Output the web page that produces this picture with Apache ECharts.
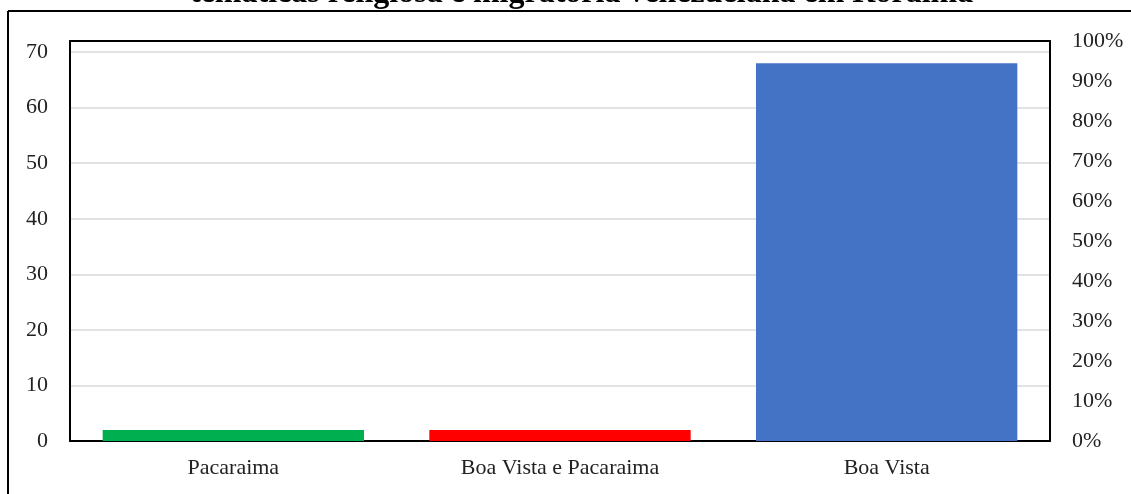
<!DOCTYPE html>
<html>
<head>
<meta charset="utf-8">
<script src="https://cdn.jsdelivr.net/npm/echarts@6/dist/echarts.min.js"></script>
<style>
html,body{margin:0;padding:0;background:#fff;}
#chart{width:1131px;height:494px;}
</style>
</head>
<body>
<div id="chart"></div>
<script>
const titleText = 'temáticas religiosa e migratória venezuelana em Roraima';
const categories = ['Pacaraima', 'Boa Vista e Pacaraima', 'Boa Vista'];
const values = [2, 2, 68];
const barColors = ['#00B050', '#FF0000', '#4472C4'];
const leftAxis = {min: 0, max: 72, interval: 10};
const rightAxis = {min: 0, max: 1, interval: 0.1};

const font = 'Liberation Serif, Times New Roman, serif';
const frameLine = {show: true, onZero: false, lineStyle: {color: '#000', width: 2}};
const chart = echarts.init(document.getElementById('chart'), null, {renderer: 'canvas'});
chart.setOption({
  animation: false,
  backgroundColor: '#fff',
  title: {
    text: titleText,
    left: 185,
    top: -27,
    textStyle: {fontFamily: font, fontSize: 32, fontWeight: 'bold', color: '#000'}
  },
  graphic: [
    {type: 'line', shape: {x1: 8, y1: 11, x2: 1140, y2: 11}, style: {stroke: '#000', lineWidth: 2}, silent: true},
    {type: 'line', shape: {x1: 8, y1: 11, x2: 8, y2: 500}, style: {stroke: '#000', lineWidth: 2}, silent: true}
  ],
  grid: {
    left: 70, right: 81, top: 41, bottom: 53,
    show: false, containLabel: false
  },
  xAxis: [
    {
      type: 'category',
      data: categories,
      axisLine: frameLine,
      axisTick: {show: false},
      axisLabel: {fontFamily: font, fontSize: 22, color: '#222', margin: 16}
    },
    {
      type: 'category',
      position: 'top',
      data: categories,
      axisLine: frameLine,
      axisTick: {show: false},
      axisLabel: {show: false},
      splitLine: {show: false}
    }
  ],
  yAxis: [
    {
      type: 'value', min: leftAxis.min, max: leftAxis.max, interval: leftAxis.interval,
      axisLine: frameLine, axisTick: {show: false},
      axisLabel: {
        fontFamily: font, fontSize: 22, color: '#222', margin: 22,
        formatter: v => (v % 10 === 0 ? String(v) : '')
      },
      splitLine: {show: true, showMinLine: false, showMaxLine: false, lineStyle: {color: '#d9d9d9', width: 1.5}}
    },
    {
      type: 'value', min: rightAxis.min, max: rightAxis.max, interval: rightAxis.interval,
      position: 'right',
      axisLine: frameLine, axisTick: {show: false},
      splitLine: {show: false},
      axisLabel: {
        fontFamily: font, fontSize: 22, color: '#222', margin: 22,
        formatter: v => Math.round(v * 100) + '%'
      }
    }
  ],
  series: [{
    type: 'bar',
    xAxisIndex: 0,
    yAxisIndex: 0,
    barCategoryGap: '20%',
    data: values.map((v, i) => ({value: v, itemStyle: {color: barColors[i]}}))
  }]
});
</script>
</body>
</html>
